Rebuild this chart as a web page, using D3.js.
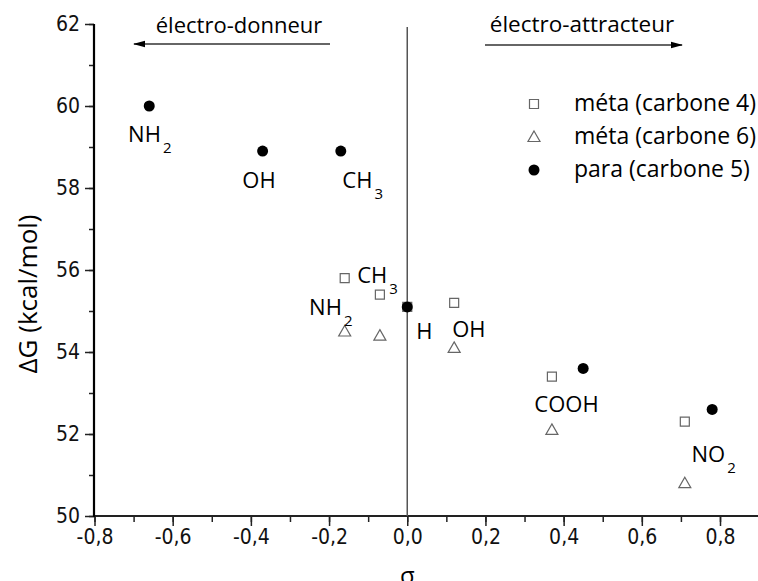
<!DOCTYPE html>
<html>
<head>
<meta charset="utf-8">
<script src="https://cdn.jsdelivr.net/npm/d3@7"></script>
<style>
  body { margin: 0; background: #fff; }
  svg { display: block; }
  text { font-family: "Open Sans", sans-serif; fill: #000; }
  .tick text { font-family: "Liberation Sans Narrow", "DejaVu Sans Condensed", sans-serif; font-size: 21px; fill: #111; }
</style>
</head>
<body>
<div id="chart"></div>
<script>
// para substituents (carbone 5)
const sigmaPara = [-0.66, -0.37, -0.17, 0, 0.45, 0.78];
const dgPara = [60.0, 58.9, 58.9, 55.1, 53.6, 52.6];

// meta substituents (carbone 4)
const sigmaMeta4 = [-0.16, -0.07, 0, 0.12, 0.37, 0.71];
const dgMeta4 = [55.8, 55.4, 55.1, 55.2, 53.4, 52.3];

// meta substituents (carbone 6)
const sigmaMeta6 = [-0.16, -0.07, 0.12, 0.37, 0.71];
const dgMeta6 = [54.5, 54.4, 54.1, 52.1, 50.8];

// point labels (text, subscript, anchor in data units)
const labelText = ["NH", "OH", "CH", "CH", "NH", "H", "OH", "COOH", "NO"];
const labelSub = ["2", "", "3", "3", "2", "", "", "", "2"];
const labelSigma = [-0.714, -0.422, -0.166, -0.128, -0.251, 0.023, 0.115, 0.325, 0.727];
const labelDG = [59.12, 58.0, 58.0, 55.68, 54.9, 54.32, 54.37, 52.54, 51.32];

const legendNames = ["méta (carbone 4)", "méta (carbone 6)", "para (carbone 5)"];
const xTicks = [-0.8, -0.6, -0.4, -0.2, 0, 0.2, 0.4, 0.6, 0.8];
const yTicks = [50, 52, 54, 56, 58, 60, 62];

const width = 758, height = 581;

const svg = d3.select("#chart")
  .append("svg")
  .attr("width", width)
  .attr("height", height);

// scales
let x = d3.scaleLinear().domain([-0.8, 0.8]).range([94.5, 720]);
let y = d3.scaleLinear().domain([50, 62]).range([516, 24]);

const fmt = d => d3.format(".1f")(d).replace(".", ",").replace("−", "-");

// minor ticks
svg.append("g")
  .attr("transform", "translate(0,516)")
  .call(d3.axisBottom(x).tickValues(d3.range(-8, 9).map(d => d / 10)).tickSize(6).tickFormat(""))
  .call(g => g.select(".domain").remove())
  .call(g => g.selectAll("line").attr("stroke", "#222").attr("stroke-width", 1.5));

svg.append("g")
  .attr("transform", "translate(94,0)")
  .call(d3.axisLeft(y).tickValues(d3.range(50, 63)).tickSize(5).tickFormat(""))
  .call(g => g.select(".domain").remove())
  .call(g => g.selectAll("line").attr("stroke", "#222").attr("stroke-width", 1.5));

// x axis
svg.append("g")
  .attr("transform", "translate(0,516)")
  .call(d3.axisBottom(x).tickValues(xTicks).tickSize(10).tickPadding(3).tickFormat(fmt))
  .call(g => g.select(".domain").remove())
  .call(g => g.selectAll("line").attr("stroke", "#222").attr("stroke-width", 1.5));

svg.append("line")
  .attr("x1", 93).attr("x2", width)
  .attr("y1", 516).attr("y2", 516)
  .attr("stroke", "#222").attr("stroke-width", 2);

// y axis
svg.append("g")
  .attr("transform", "translate(94,0)")
  .call(d3.axisLeft(y).tickValues(yTicks).tickSize(9).tickPadding(5))
  .call(g => g.select(".domain").remove())
  .call(g => g.selectAll("line").attr("stroke", "#222").attr("stroke-width", 1.5));

svg.append("line")
  .attr("x1", 94).attr("x2", 94)
  .attr("y1", y(62)).attr("y2", 517)
  .attr("stroke", "#000").attr("stroke-width", 2.2);

// zero line
svg.append("line")
  .attr("x1", x(0)).attr("x2", x(0))
  .attr("y1", 27).attr("y2", 516)
  .attr("stroke", "#555").attr("stroke-width", 1.5);

// axis labels
svg.append("text")
  .attr("transform", "translate(37," + 294 + ") rotate(-90)")
  .attr("text-anchor", "middle")
  .style("font-size", "26px")
  .text("ΔG (kcal/mol)");

svg.append("text")
  .attr("x", x(0))
  .attr("y", 584)
  .attr("text-anchor", "middle")
  .style("font-size", "24px")
  .text("σ");

// arrows
const defs = svg.append("defs");
defs.append("marker")
  .attr("id", "head")
  .attr("viewBox", "0 0 12 8")
  .attr("refX", 11).attr("refY", 4)
  .attr("markerWidth", 12).attr("markerHeight", 8)
  .attr("markerUnits", "userSpaceOnUse")
  .attr("orient", "auto")
  .append("path")
  .attr("d", "M0,0.8 L12,4 L0,7.2 Z")
  .attr("fill", "#000");

svg.append("line")
  .attr("x1", 330).attr("x2", 134)
  .attr("y1", 44).attr("y2", 44)
  .attr("stroke", "#333").attr("stroke-width", 1.5)
  .attr("marker-end", "url(#head)");

svg.append("text")
  .attr("x", 239).attr("y", 33)
  .attr("text-anchor", "middle")
  .style("font-size", "22px")
  .text("électro-donneur");

svg.append("line")
  .attr("x1", 485).attr("x2", 682)
  .attr("y1", 45).attr("y2", 45)
  .attr("stroke", "#333").attr("stroke-width", 1.5)
  .attr("marker-end", "url(#head)");

svg.append("text")
  .attr("x", 582).attr("y", 32)
  .attr("text-anchor", "middle")
  .style("font-size", "22.5px")
  .text("électro-attracteur");

// symbols
const squarePath = "M-4.5,-4.5 H4.5 V4.5 H-4.5 Z";
const trianglePath = "M0,-6 L6,4.5 L-6,4.5 Z";

svg.append("g")
  .selectAll("path")
  .data(sigmaMeta4)
  .enter()
  .append("path")
  .attr("transform", (d, i) => "translate(" + x(d) + "," + y(dgMeta4[i]) + ")")
  .attr("d", squarePath)
  .attr("fill", "#fff")
  .attr("stroke", "#666")
  .attr("stroke-width", 1.2);

svg.append("g")
  .selectAll("path")
  .data(sigmaMeta6)
  .enter()
  .append("path")
  .attr("transform", (d, i) => "translate(" + x(d) + "," + y(dgMeta6[i]) + ")")
  .attr("d", trianglePath)
  .attr("fill", "none")
  .attr("stroke", "#666")
  .attr("stroke-width", 1.2);

svg.append("g")
  .selectAll("circle")
  .data(sigmaPara)
  .enter()
  .append("circle")
  .attr("cx", d => x(d))
  .attr("cy", (d, i) => y(dgPara[i]))
  .attr("r", 5.5)
  .attr("fill", "#000");

// point labels
const lab = svg.append("g")
  .selectAll("text")
  .data(labelText)
  .enter()
  .append("text")
  .attr("x", (d, i) => x(labelSigma[i]))
  .attr("y", (d, i) => y(labelDG[i]))
  .style("font-size", "22px");

lab.append("tspan").text(d => d);
lab.append("tspan")
  .attr("dy", 11)
  .attr("dx", 2)
  .style("font-size", "15px")
  .text((d, i) => labelSub[i]);

// legend
const legend = svg.append("g").attr("transform", "translate(534,104)");
const legendRows = legend.selectAll("g")
  .data(legendNames)
  .enter()
  .append("g")
  .attr("transform", (d, i) => "translate(0," + (i * 33) + ")");

legendRows.each(function (d, i) {
  const g = d3.select(this);
  if (i === 0) {
    g.append("path").attr("d", squarePath).attr("fill", "#fff").attr("stroke", "#666").attr("stroke-width", 1.2);
  } else if (i === 1) {
    g.append("path").attr("d", trianglePath).attr("fill", "none").attr("stroke", "#666").attr("stroke-width", 1.2);
  } else {
    g.append("circle").attr("r", 5.5).attr("fill", "#000");
  }
});

legendRows.append("text")
  .attr("x", 40)
  .attr("y", 7)
  .style("font-size", "23px")
  .text(d => d);
</script>
</body>
</html>
